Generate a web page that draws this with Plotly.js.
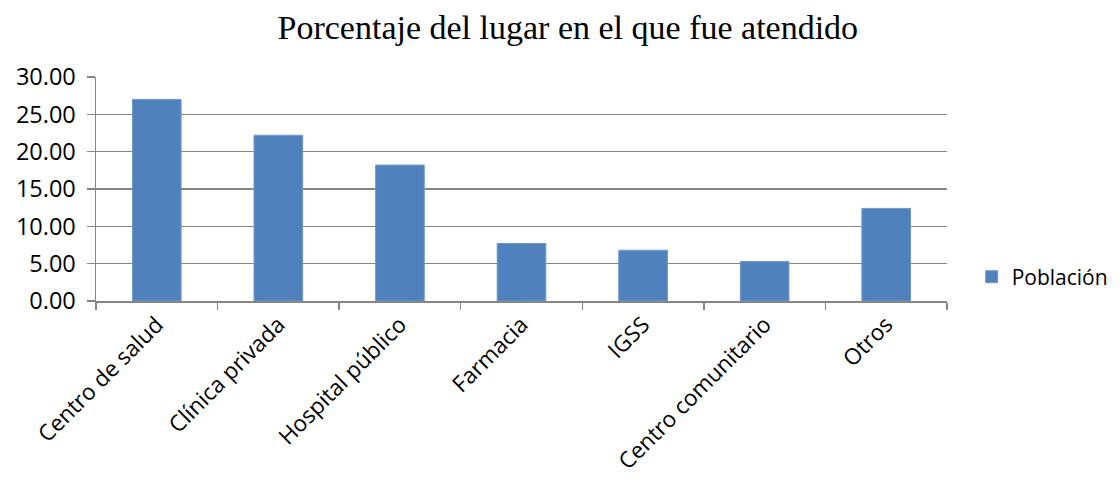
<!DOCTYPE html>
<html>
<head>
<meta charset="utf-8">
<script src="https://cdn.plot.ly/plotly-3.0.1.min.js"></script>
<style>html,body{margin:0;padding:0;background:#fff}</style>
</head>
<body>
<div id="chart" style="width:1120px;height:482px"></div>
<script>
const categories = ["Centro de salud","Clínica privada","Hospital público","Farmacia","IGSS","Centro comunitario","Otros"];
const poblacion = [27.0, 22.2, 18.2, 7.7, 6.8, 5.3, 12.4];
const yTicks = [0,5,10,15,20,25,30];
const yTickLabels = ["0.00","5.00","10.00","15.00","20.00","25.00","30.00"];

const trace = {
  type: 'bar',
  x: categories,
  y: poblacion,
  name: 'Población',
  marker: {color: '#4f81bd', line: {color: '#6f97c9', width: 1}},
  width: 0.4
};

const tf = {family: 'Open Sans, sans-serif', size: 22.5, color: '#000'};

const layout = {
  width: 1120, height: 482,
  margin: {l: 96, r: 173, t: 77, b: 181, autoexpand: false},
  paper_bgcolor: '#fff', plot_bgcolor: '#fff',
  title: {text: 'Porcentaje del lugar en el que fue atendido', x: 0.507, xanchor: 'center', y: 0.943, yanchor: 'middle',
    font: {family: 'Liberation Serif, serif', size: 34, color: '#000'}},
  font: tf,
  xaxis: {
    type: 'category', tickangle: -45, tickson: 'boundaries', ticks: 'outside', ticklen: 7, tickwidth: 1.5, tickcolor: '#868686',
    showline: true, linecolor: '#868686', linewidth: 1.5, showgrid: false,
    tickfont: tf, range: [-0.5, 6.5]
  },
  yaxis: {
    range: [0, 30], tickvals: yTicks, ticktext: yTickLabels, ticks: 'outside', ticklen: 8, tickwidth: 1.5, tickcolor: '#868686',
    showline: true, linecolor: '#868686', linewidth: 1.5, showgrid: true, gridcolor: '#868686', gridwidth: 1.5,
    zeroline: false, tickfont: {family: 'Open Sans, sans-serif', size: 23.5, color: '#000'}, ticklabelstandoff: 6
  },
  showlegend: true,
  legend: {x: 1.029, xanchor: 'left', y: 0.107, yanchor: 'middle', font: {family: 'Open Sans, sans-serif', size: 21, color: '#000'},
    itemwidth: 30, bgcolor: 'rgba(0,0,0,0)'},
  bargap: 0.6
};

Plotly.newPlot('chart', [trace], layout, {displayModeBar: false, staticPlot: true});
</script>
</body>
</html>
